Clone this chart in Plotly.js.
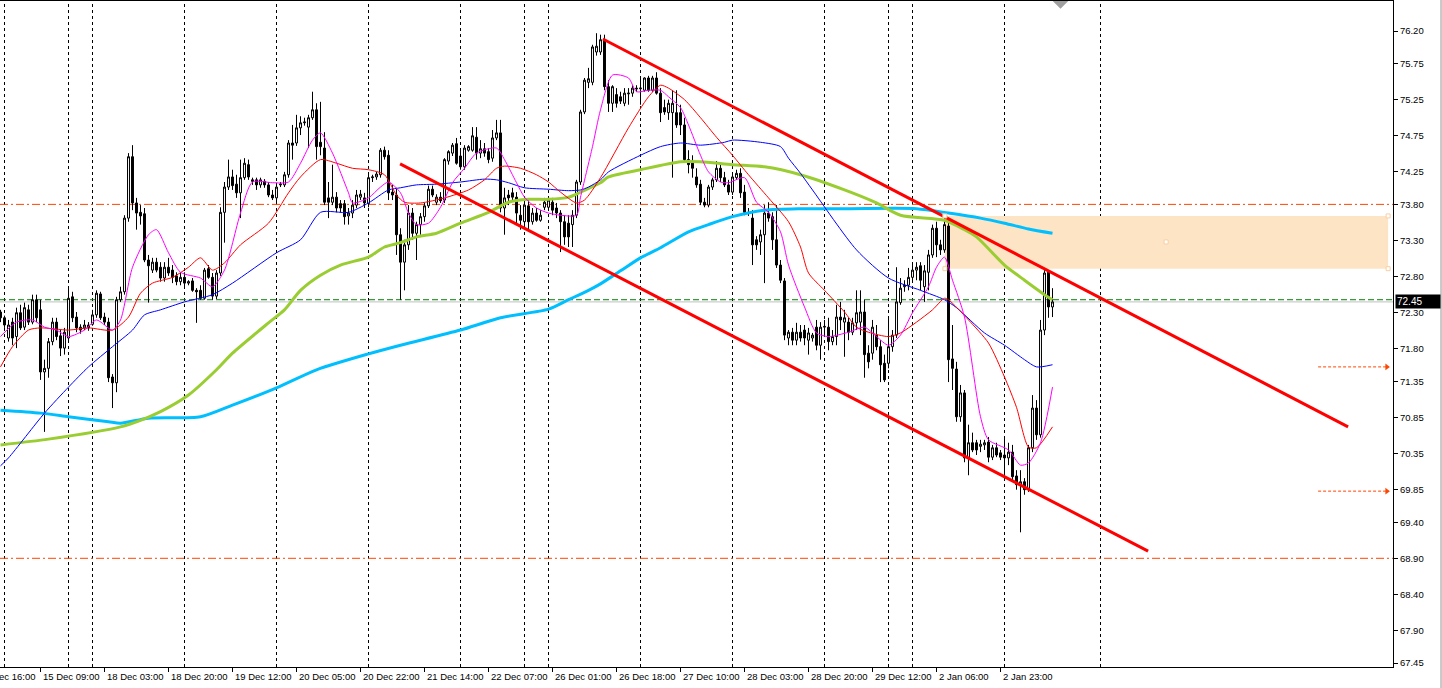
<!DOCTYPE html>
<html>
<head>
<meta charset="utf-8">
<script src="https://cdn.plot.ly/plotly-3.0.1.min.js"></script>
<style>
html,body{margin:0;padding:0;background:#fff;overflow:hidden}
#chart{width:1442px;height:688px}
</style>
</head>
<body>
<div id="chart"></div>
<script>
// ---------- OHLC (hourly bars, left to right) ----------
const openP = [72.31,72.23,71.95,72.17,71.97,72.30,72.10,72.34,72.17,72.48,72.34,71.48,71.53,71.90,72.17,71.98,71.81,71.95,72.52,72.24,
72.10,72.09,72.13,72.14,72.27,72.56,72.24,72.17,71.41,71.33,72.48,72.59,73.61,74.46,73.82,73.69,73.67,73.03,72.89,73.00,
72.93,72.78,72.93,72.89,72.81,72.73,72.79,72.71,72.74,72.61,72.61,72.50,72.91,72.79,72.53,72.85,73.69,74.04,74.18,74.08,
73.96,74.17,74.35,74.14,74.14,74.07,74.12,74.07,73.93,73.89,74.07,74.07,74.21,74.65,74.65,74.86,74.93,74.87,75.00,75.11,
74.66,74.58,73.89,73.83,73.90,73.81,73.81,73.64,73.68,73.79,73.90,73.89,73.81,74.17,74.18,74.21,74.55,74.48,73.97,73.93,
73.38,73.00,73.24,73.68,73.40,73.52,73.63,73.78,74.01,73.83,73.90,73.86,74.40,74.51,74.64,74.47,74.32,74.55,74.55,74.73,
74.51,74.57,74.53,74.44,74.72,74.79,73.75,73.93,73.96,73.90,73.65,73.56,73.78,73.56,73.68,73.58,73.76,73.76,73.83,73.75,
73.68,73.56,73.54,73.52,73.65,74.11,75.08,75.49,75.49,75.91,75.91,76.08,75.43,75.20,75.32,75.29,75.20,75.33,75.34,75.41,
75.40,75.38,75.55,75.38,75.55,75.34,75.14,75.07,75.07,75.07,75.07,74.90,74.42,74.39,74.18,74.08,73.83,73.79,74.04,74.14,
74.30,74.17,74.07,73.97,74.17,74.23,73.97,73.69,73.61,73.31,73.28,73.38,73.68,73.63,73.31,72.96,72.74,71.95,72.03,71.92,
72.03,72.06,71.92,71.95,72.10,71.85,72.10,72.10,71.90,71.97,72.24,72.17,72.17,72.03,72.16,72.17,72.31,71.74,71.74,71.99,
71.83,71.60,71.60,71.83,71.99,72.44,72.66,72.68,72.79,72.89,72.95,72.66,72.86,73.10,73.47,73.24,73.17,73.50,71.66,71.52,
70.86,71.19,70.29,70.50,70.50,70.45,70.47,70.51,70.30,70.43,70.36,70.33,70.29,70.37,70.04,69.92,69.96,69.85,70.43,70.98,
70.61,72.06,72.86,72.38];
const highP = [72.34,72.26,72.20,72.23,72.37,72.41,72.44,72.41,72.55,72.55,72.48,71.65,71.95,72.23,72.23,72.06,72.09,72.64,72.59,72.31,
72.14,72.20,72.17,72.34,72.61,72.59,72.30,72.23,71.45,72.52,72.66,73.65,74.51,74.62,73.89,73.79,73.75,73.10,73.06,73.06,
73.00,73.00,73.06,72.96,72.86,72.86,72.86,72.75,72.78,72.64,72.68,72.92,72.96,72.85,72.89,73.76,74.11,74.42,74.28,74.21,
74.42,74.44,74.42,74.17,74.17,74.17,74.15,74.11,74.00,74.10,74.11,74.25,74.69,74.90,75.04,75.02,75.00,75.04,75.36,75.20,
75.22,74.80,74.11,74.35,73.97,73.86,73.86,73.75,73.86,74.00,74.00,73.96,74.21,74.21,74.25,74.58,74.60,74.55,74.07,74.03,
73.47,73.31,73.79,73.75,73.56,73.68,73.82,74.06,74.06,73.94,73.97,74.44,74.55,74.65,74.72,74.55,74.62,74.62,74.87,74.87,
74.69,74.65,74.58,74.83,74.97,74.97,74.03,74.00,74.03,73.97,73.79,73.86,73.86,73.75,73.75,73.72,73.89,73.89,73.89,73.82,
73.72,73.65,73.65,73.72,74.14,75.11,75.55,75.69,76.01,76.17,76.15,76.15,75.52,75.45,75.41,75.36,75.41,75.41,75.45,75.45,
75.55,75.56,75.58,75.58,75.63,75.41,75.25,75.25,75.38,75.38,75.18,75.00,74.55,74.48,74.30,74.14,73.89,74.07,74.17,74.40,
74.37,74.25,74.14,74.21,74.28,74.30,74.07,73.75,73.72,73.36,73.45,73.79,73.83,73.69,73.79,73.03,72.78,72.06,72.09,72.16,
72.13,72.13,72.09,72.02,72.20,72.17,72.20,72.23,72.06,72.41,72.45,72.34,72.23,72.23,72.61,72.61,72.48,71.85,72.20,72.13,
71.92,71.72,72.23,72.06,72.93,72.78,72.75,72.92,72.96,73.00,73.00,72.96,73.17,73.52,73.56,73.31,73.61,73.58,72.13,71.62,
71.30,71.23,70.75,70.64,70.54,70.54,70.54,70.58,70.47,70.50,70.40,70.57,70.50,70.47,70.12,70.12,70.01,70.47,71.16,71.09,
72.20,72.89,72.89,72.64];
const lowP = [72.17,72.09,71.90,71.85,71.81,72.06,72.06,72.13,72.14,72.17,71.37,70.65,71.40,71.85,71.92,71.70,71.72,71.92,72.17,72.03,
72.01,72.06,72.05,72.12,72.23,72.20,72.13,71.34,70.98,71.20,72.45,72.55,73.56,73.72,73.45,73.52,73.00,72.44,72.85,72.86,
72.73,72.73,72.81,72.71,72.68,72.68,72.67,72.68,72.59,72.16,72.48,72.48,72.77,72.48,72.49,72.81,73.27,74.00,74.00,73.89,
73.61,74.14,74.14,74.07,74.00,74.03,74.03,73.90,73.86,73.83,74.04,74.04,74.17,74.42,74.61,74.76,74.89,74.58,74.97,74.42,
74.48,73.79,73.61,73.79,73.69,73.69,73.52,73.52,73.61,73.75,73.86,73.75,73.76,74.11,74.14,74.17,74.42,73.86,73.86,73.10,
72.48,72.61,73.17,73.31,73.03,73.38,73.56,73.75,73.90,73.79,73.82,73.82,74.35,74.47,74.35,74.28,74.28,74.53,74.53,74.42,
74.44,74.46,74.37,74.39,74.69,73.69,73.38,73.79,73.86,73.52,73.45,73.47,73.45,73.52,73.56,73.56,73.72,73.72,73.65,73.61,
73.14,73.24,73.21,73.21,73.61,74.07,75.05,75.41,75.45,75.86,75.87,75.38,75.08,75.08,75.14,75.19,75.16,75.18,75.29,75.36,
75.18,75.36,75.36,75.36,75.32,74.94,75.04,74.97,74.17,74.86,74.76,74.39,74.23,74.17,74.03,73.79,73.76,73.76,74.00,74.11,
74.11,74.04,73.93,73.93,74.14,73.89,73.65,73.64,72.96,73.17,73.10,72.71,73.56,73.17,72.92,72.71,71.92,71.85,71.85,71.85,
71.90,71.85,71.72,71.90,71.78,71.65,71.99,71.78,71.85,71.85,72.06,71.69,71.92,71.99,72.06,71.99,71.40,71.53,71.65,71.78,
71.34,71.34,71.53,71.76,71.95,72.41,72.59,72.61,72.75,72.75,72.61,72.45,72.61,73.06,73.07,73.10,73.13,71.34,71.23,70.79,
70.79,70.23,70.05,70.37,70.33,70.37,70.40,70.23,70.26,70.30,70.26,70.03,70.19,69.98,69.85,69.26,69.78,69.82,70.37,70.54,
70.57,71.99,72.23,72.24];
const closeP = [72.23,72.13,72.13,71.95,72.30,72.09,72.37,72.17,72.48,72.23,71.48,71.53,71.90,72.17,71.97,71.81,72.03,72.50,72.23,72.09,
72.06,72.13,72.09,72.27,72.57,72.23,72.17,71.40,71.33,72.48,72.59,73.61,74.46,73.82,73.68,73.64,73.03,72.95,73.00,72.89,
72.78,72.93,72.85,72.79,72.73,72.79,72.71,72.73,72.61,72.59,72.50,72.89,72.79,72.53,72.85,73.69,74.04,74.18,74.06,73.96,
74.17,74.37,74.18,74.12,74.07,74.14,74.07,73.93,73.89,74.04,74.08,74.21,74.65,74.62,74.86,74.93,74.94,75.00,75.11,74.60,
74.60,73.83,73.83,73.90,73.75,73.75,73.63,73.68,73.79,73.93,73.94,73.82,74.17,74.18,74.22,74.55,74.46,73.96,73.93,73.38,
73.00,73.24,73.68,73.40,73.52,73.63,73.78,74.01,73.93,73.90,73.85,74.42,74.53,74.62,74.37,74.32,74.58,74.60,74.75,74.51,
74.57,74.51,74.42,74.72,74.79,73.75,73.89,73.89,73.90,73.68,73.58,73.79,73.56,73.68,73.58,73.65,73.83,73.86,73.72,73.68,
73.56,73.35,73.35,73.65,74.11,75.08,75.52,75.54,75.98,75.99,76.08,75.43,75.20,75.43,75.20,75.23,75.34,75.34,75.41,75.40,
75.41,75.55,75.38,75.55,75.34,75.07,75.08,75.20,75.20,74.90,74.90,74.42,74.35,74.30,74.07,73.83,73.79,74.04,74.14,74.30,
74.17,74.07,73.97,74.18,74.23,73.96,73.69,73.68,73.24,73.24,73.38,73.68,73.61,73.31,72.96,72.75,71.99,72.03,71.92,72.03,
71.95,71.95,72.02,71.99,71.85,72.10,72.11,71.90,71.97,72.24,72.20,72.23,72.03,72.16,72.30,72.31,71.72,71.62,72.10,71.83,
71.58,71.37,71.83,71.99,72.45,72.64,72.68,72.79,72.89,72.93,72.75,72.88,73.10,73.47,73.24,73.17,73.52,71.65,71.53,70.86,
71.19,70.29,70.50,70.40,70.40,70.48,70.50,70.30,70.43,70.33,70.30,70.29,70.37,70.03,69.92,69.96,69.85,70.43,70.98,70.61,
72.06,72.85,72.38,72.45];

// ---------- moving averages (bar index, value) ----------
const maFastIdx = [0,4,8,11,14,17,21,24,28,30,33,37,39,42,45,50,53,56,60,63,68,72,75,78,80,83,87,88,92,95,97,100,102,104,107,110,113,116,119,124,126,129,131,134,137,140,144,145,148,150,153,157,159,162,165,167,170,172,175,177,180,182,186,189,192,195,197,201,204,207,212,216,219,222,225,228,232,234,236,238,241,245,247,252,255,257,260,263];
const maFastVal = [71.97,72.17,72.20,72.10,72.06,71.97,72.06,72.20,72.06,72.20,72.93,73.38,73.45,73.13,72.86,72.78,72.66,72.89,73.68,74.11,74.10,74.11,74.37,74.69,74.79,74.51,73.96,73.82,73.89,74.04,74.11,73.96,73.68,73.52,73.54,73.76,74.10,74.30,74.51,74.58,74.42,74.10,73.90,73.75,73.68,73.65,73.65,73.90,74.60,75.11,75.59,75.55,75.36,75.38,75.38,75.29,75.14,74.90,74.48,74.25,74.11,74.10,74.17,73.83,73.69,73.42,72.96,72.38,72.02,71.97,72.03,72.10,71.97,71.85,71.99,72.30,72.66,72.93,73.07,72.75,72.24,70.86,70.54,70.40,70.19,70.22,70.50,71.27];

const maRedIdx = [0,3,7,10,17,22,28,32,35,38,43,47,50,53,56,60,67,72,75,80,84,88,92,96,99,101,105,111,117,121,124,126,130,134,137,140,144,146,150,157,162,165,167,171,175,179,183,187,192,197,200,202,206,211,214,217,222,225,229,233,236,237,242,247,251,254,257,259,263];
const maRedVal = [71.55,71.83,72.06,72.09,72.06,72.09,72.06,72.24,72.57,72.71,72.79,72.93,73.06,72.89,72.99,73.24,73.54,73.96,74.18,74.42,74.37,74.30,74.28,74.21,73.93,73.83,73.82,73.89,74.00,74.14,74.30,74.33,74.30,74.21,74.11,73.97,73.82,73.86,74.17,74.86,75.29,75.45,75.41,75.25,75.00,74.73,74.48,74.21,73.89,73.56,73.21,72.85,72.61,72.31,72.10,72.03,71.97,72.02,72.17,72.34,72.50,72.48,72.20,71.88,71.41,70.99,70.44,70.43,70.72];

const maBlueIdx = [0,2,11,17,22,28,33,36,40,46,53,58,69,75,80,87,92,97,100,104,109,115,121,124,127,131,137,142,145,147,150,152,160,165,170,175,181,183,190,195,197,200,203,214,222,230,236,239,246,251,256,259,263];
const maBlueVal = [70.18,70.29,70.91,71.27,71.55,71.83,72.06,72.27,72.34,72.45,72.55,72.71,73.13,73.31,73.69,73.69,73.82,74.00,74.03,74.07,74.08,74.11,74.15,74.14,74.10,74.03,74.01,73.99,74.00,74.04,74.14,74.25,74.48,74.60,74.65,74.62,74.66,74.69,74.66,74.60,74.44,74.23,74.00,73.17,72.78,72.61,72.48,72.37,72.02,71.85,71.65,71.55,71.58];

const maGreenIdx = [0,12,30,35,40,47,54,58,67,71,75,80,85,92,96,100,104,109,115,122,127,132,137,142,145,150,152,160,170,175,183,191,200,211,219,225,236,241,244,251,256,261,263];
const maGreenVal = [70.47,70.55,70.72,70.81,70.93,71.16,71.51,71.74,72.16,72.34,72.61,72.82,72.96,73.07,73.21,73.27,73.35,73.40,73.54,73.69,73.83,73.87,73.87,73.90,73.97,74.10,74.18,74.28,74.39,74.39,74.35,74.32,74.21,74.00,73.82,73.65,73.58,73.45,73.35,72.96,72.75,72.55,72.48];

const maCyanIdx = [0,10,17,27,30,37,50,58,69,79,92,100,115,125,137,142,147,150,155,160,165,172,177,183,191,200,212,229,237,245,251,257,263];
const maCyanVal = [70.95,70.91,70.86,70.79,70.77,70.84,70.86,71.02,71.26,71.51,71.73,71.85,72.06,72.23,72.35,72.48,72.61,72.70,72.88,73.06,73.20,73.42,73.52,73.63,73.72,73.74,73.74,73.74,73.68,73.61,73.54,73.46,73.40];

// ---------- drawn objects ----------
const upperChannelIdx = [150.6, 336.9];
const upperChannelVal = [76.09, 70.72];
const lowerChannelIdx = [99.9, 286.9];
const lowerChannelVal = [74.36, 69.00];
const zoneIdx = [236.1, 346.9];
const zoneVal = [72.91, 73.64];
const zoneHandleIdx = [236.1, 346.9, 236.1, 346.9, 291.4];
const zoneHandleVal = [73.64, 73.64, 72.91, 72.91, 73.28];
const levelLines = [73.80, 68.90];
const greenLevel = 72.48;
const bidPrice = 72.45;
const alertIdx = [329.4, 346.6];
const alertVal = [71.55, 69.83];
const daySeparators = [1,17,23,46,69,92,115,131,137,160,183,206,222,228,251,275];
const shiftMarkIdx = 265;

// ---------- axes ----------
const priceTicks = [76.20,75.75,75.25,74.75,74.25,73.80,73.30,72.80,72.30,71.80,71.35,70.85,70.35,69.85,69.40,68.90,68.40,67.90,67.45];
const timeTickIdx = [-6,10,26,42,58,74,90,106,122,138,154,170,186,202,218,234,250];
const timeTickText = ['14 Dec 16:00','15 Dec 09:00','18 Dec 03:00','18 Dec 20:00','19 Dec 12:00','20 Dec 05:00','20 Dec 22:00','21 Dec 14:00','22 Dec 07:00','26 Dec 01:00','26 Dec 18:00','27 Dec 10:00','28 Dec 03:00','28 Dec 20:00','29 Dec 12:00','2 Jan 06:00','2 Jan 23:00'];

const xRange = [-0.125, 348.125];
const yRange = [67.395, 76.616];
const barIdx = openP.map((_, i) => i);
const smooth = {shape:'spline', smoothing:0.7};

const traces = [
  {type:'candlestick', x:barIdx, open:openP, high:highP, low:lowP, close:closeP,
   increasing:{line:{color:'#000', width:1}, fillcolor:'#ffffff'},
   decreasing:{line:{color:'#000', width:1}, fillcolor:'#000000'},
   whiskerwidth:0, hoverinfo:'skip'},
  {type:'scatter', mode:'lines', x:maCyanIdx, y:maCyanVal, line:Object.assign({color:'#00BFFF', width:3}, smooth), hoverinfo:'skip'},
  {type:'scatter', mode:'lines', x:maGreenIdx, y:maGreenVal, line:Object.assign({color:'#9ACD32', width:3}, smooth), hoverinfo:'skip'},
  {type:'scatter', mode:'lines', x:maBlueIdx, y:maBlueVal, line:Object.assign({color:'#0000FF', width:1}, smooth), hoverinfo:'skip'},
  {type:'scatter', mode:'lines', x:maRedIdx, y:maRedVal, line:Object.assign({color:'#FF0000', width:1}, smooth), hoverinfo:'skip'},
  {type:'scatter', mode:'lines', x:maFastIdx, y:maFastVal, line:Object.assign({color:'#FF00FF', width:1}, smooth), hoverinfo:'skip'},
  {type:'scatter', mode:'lines', x:upperChannelIdx, y:upperChannelVal, line:{color:'#FF0000', width:3}, hoverinfo:'skip'},
  {type:'scatter', mode:'lines', x:lowerChannelIdx, y:lowerChannelVal, line:{color:'#FF0000', width:3}, hoverinfo:'skip'},
  {type:'scatter', mode:'markers', x:zoneHandleIdx, y:zoneHandleVal,
   marker:{symbol:'square', size:4, color:'#ffffff', line:{color:'#F7CFA4', width:1}}, hoverinfo:'skip'},
  {type:'scatter', mode:'markers', x:[alertIdx[1], alertIdx[1]], y:alertVal,
   marker:{symbol:'triangle-right', size:6, color:'#FF4500'}, hoverinfo:'skip'},
  {type:'scatter', mode:'markers', x:[shiftMarkIdx], y:[yRange[1]], cliponaxis:true,
   marker:{symbol:'diamond', size:12, color:'#A0A0A0'}, hoverinfo:'skip'}
];

const shapes = [];
shapes.push({type:'rect', xref:'x', yref:'y', x0:zoneIdx[0], x1:zoneIdx[1], y0:zoneVal[0], y1:zoneVal[1],
  fillcolor:'#FDE4C4', line:{width:0}, layer:'below'});
daySeparators.forEach(d => shapes.push({type:'line', xref:'x', yref:'paper', x0:d, x1:d, y0:0, y1:1,
  line:{color:'#000', width:1, dash:'3px,3px'}, layer:'below'}));
levelLines.forEach(v => shapes.push({type:'line', xref:'paper', yref:'y', x0:0, x1:1, y0:v, y1:v,
  line:{color:'#FF4500', width:1, dash:'8px,3px,2px,3px'}, layer:'below'}));
shapes.push({type:'line', xref:'paper', yref:'y', x0:0, x1:1, y0:greenLevel, y1:greenLevel,
  line:{color:'#008000', width:1, dash:'6px,3px'}, layer:'below'});
shapes.push({type:'line', xref:'paper', yref:'y', x0:0, x1:1, y0:bidPrice, y1:bidPrice,
  line:{color:'#C0C0C0', width:1}, layer:'below'});
alertVal.forEach(v => shapes.push({type:'line', xref:'x', yref:'y', x0:alertIdx[0], x1:alertIdx[1], y0:v, y1:v,
  line:{color:'#FF4500', width:1, dash:'3px,2px'}}));
shapes.push({type:'line', xref:'paper', yref:'paper', x0:1.0345, x1:1.0345, y0:-0.05, y1:1.01,
  line:{color:'#C8C8C8', width:2}});

const annotations = [];
timeTickIdx.forEach((t, k) => {
  const inRange = t >= xRange[0] && t <= xRange[1];
  annotations.push({
    xref: inRange ? 'x' : 'paper',
    x: inRange ? t : (t - xRange[0]) / (xRange[1] - xRange[0]),
    yref:'paper', y:0, xanchor:'left', yanchor:'top', yshift:-2,
    text: timeTickText[k], showarrow:false,
    font:{family:'Liberation Sans, Arial, sans-serif', size:9.5, color:'#000'}
  });
});
annotations.push({xref:'paper', x:1, xanchor:'left', xshift:2, yref:'y', y:bidPrice, yanchor:'middle',
  text:bidPrice.toFixed(2), showarrow:false, bgcolor:'#000', width:42, align:'left', borderpad:1,
  font:{family:'Liberation Sans, Arial, sans-serif', size:10, color:'#fff'}});

const layout = {
  width:1442, height:688,
  margin:{l:0, r:49, t:1, b:21},
  paper_bgcolor:'#ffffff', plot_bgcolor:'#ffffff',
  showlegend:false, hovermode:false,
  font:{family:'Liberation Sans, Arial, sans-serif', size:9.5, color:'#000'},
  xaxis:{range:xRange, showgrid:false, zeroline:false, showline:true, linecolor:'#000', linewidth:1, mirror:true,
    ticks:'outside', ticklen:4, tickcolor:'#000', tickvals:timeTickIdx.filter(t => t >= xRange[0]), showticklabels:false,
    rangeslider:{visible:false}, fixedrange:true},
  yaxis:{side:'right', range:yRange, showgrid:false, zeroline:false, showline:true, linecolor:'#000', linewidth:1,
    ticks:'outside', ticklen:4, tickcolor:'#000', tickvals:priceTicks, ticktext:priceTicks.map(v => v.toFixed(2)),
    tickfont:{size:9.5, color:'#000'}, fixedrange:true},
  shapes:shapes,
  annotations:annotations
};

Plotly.newPlot('chart', traces, layout, {displayModeBar:false, staticPlot:true});
</script>
</body>
</html>
